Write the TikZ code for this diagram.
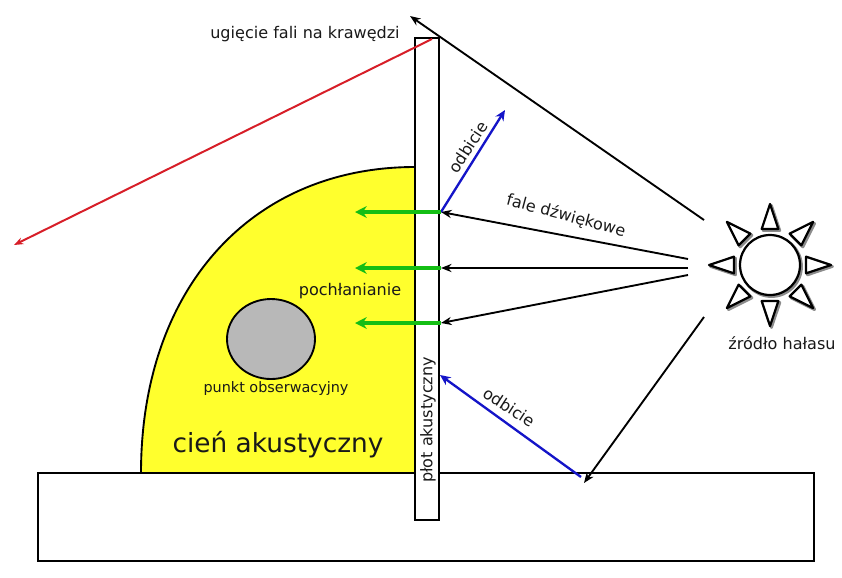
\documentclass[tikz,border=0pt]{standalone}
\usepackage{fontspec}
\setmainfont{DejaVu Sans}
\usetikzlibrary{arrows.meta}
\definecolor{shadowyellow}{RGB}{255,255,45}
\definecolor{waveblue}{RGB}{20,20,200}
\definecolor{wavegreen}{RGB}{20,190,20}
\definecolor{wavered}{RGB}{215,30,40}
\definecolor{textgrey}{RGB}{25,25,25}
\tikzset{
    wave/.style={draw=black, line width=1.6pt, -{Stealth[length=9pt, width=7pt]}},
    reflected/.style={draw=waveblue, line width=2pt, -{Stealth[length=9pt, width=8pt]}},
    absorbed/.style={draw=wavegreen, line width=3pt, -{Stealth[length=10pt, width=10pt]}},
    diffracted/.style={draw=wavered, line width=1.7pt, -{Stealth[length=8pt, width=6pt]}},
    outline/.style={draw=black, line width=1.6pt},
    label/.style={text=textgrey, font=\fontsize{13.7}{16}\selectfont, inner sep=0pt}
}
\begin{document}
\begin{tikzpicture}[x=0.03cm, y=-0.03cm]
        \useasboundingbox (0, 0) rectangle (842, 577);

        \coordinate (edge) at (432, 39);
        \coordinate (edgepast) at (410, 16);
        \coordinate (redend) at (14, 245);
        \coordinate (hit1) at (441, 212);
        \coordinate (hit2) at (441, 268);
        \coordinate (hit3) at (441, 323);
        \coordinate (hit4) at (440, 375);
        \coordinate (groundhit) at (584, 483);
        \coordinate (bounce) at (581, 477);
        \coordinate (blueend) at (505, 110);
        \coordinate (src0) at (704, 220);
        \coordinate (src1) at (688, 259);
        \coordinate (src2) at (688, 268);
        \coordinate (src3) at (688, 275);
        \coordinate (src4) at (704, 317);
        \coordinate (green1) at (355, 212);
        \coordinate (green2) at (355, 268);
        \coordinate (green3) at (355, 323);

        % shadow zone
        \fill [shadowyellow] (415, 473) -- (141, 473) .. controls (141, 289) and (251, 167) .. (415, 167) -- cycle;
        \draw [outline] (141, 473) .. controls (141, 289) and (251, 167) .. (415, 167);

        \draw [outline, fill=white] (38, 473) rectangle (814, 561);
        \draw [outline, fill=black!28] (271, 339) ellipse [x radius=44, y radius=40];

        \draw [outline, fill=white] (415, 38) rectangle (439, 520);

        % rays
        \draw [wave] (src0) -- (edgepast);
        \draw [wave] (src1) -- (hit1);
        \draw [wave] (src2) -- (hit2);
        \draw [wave] (src3) -- (hit3);
        \draw [wave] (src4) -- (groundhit);
        \draw [diffracted] (edge) -- (redend);
        \draw [reflected] (hit1) -- (blueend);
        \draw [reflected] (bounce) -- (hit4);
        \draw [absorbed] (hit1) -- (green1);
        \draw [absorbed] (hit2) -- (green2);
        \draw [absorbed] (hit3) -- (green3);

        % noise source
        \foreach \a in {0, 45, ..., 315} {
            \draw [black!45, line width=2.4pt, line join=round, fill=white] ([shift={(\a+13:37)}]771.5, 266.5) -- ([shift={(\a:61)}]771.5, 266.5) -- ([shift={(\a-13:37)}]771.5, 266.5) -- cycle;
            \draw [line width=1.9pt, line join=round, fill=white] ([shift={(\a+13:37)}]770, 265) -- ([shift={(\a:61)}]770, 265) -- ([shift={(\a-13:37)}]770, 265) -- cycle;
        }
        \draw [black!45, line width=2.4pt] (771.5, 266.5) circle [radius=30];
        \draw [line width=1.9pt, fill=white] (770, 265) circle [radius=30];

        \node [label] (edgelabel) at (305, 34) {ugięcie fali na krawędzi};
        \node [label, rotate=-15] (wavelabel) at (566, 216) {fale dźwiękowe};
        \node [label, rotate=57] (uplabel) at (468, 147) {odbicie};
        \node [label, rotate=-33] (downlabel) at (509, 407) {odbicie};
        \node [label, rotate=90] (fencelabel) at (428, 420) {płot akustyczny};
        \node [label] (absorblabel) at (350, 291) {pochłanianie};
        \node [label, font=\fontsize{12.3}{14}\selectfont] (pointlabel) at (276, 389) {punkt obserwacyjny};
        \node [label, font=\fontsize{22.5}{26}\selectfont] (zonelabel) at (278, 445) {cień akustyczny};
        \node [label] (sourcelabel) at (782, 343) {źródło hałasu};
    \end{tikzpicture}
\end{document}
